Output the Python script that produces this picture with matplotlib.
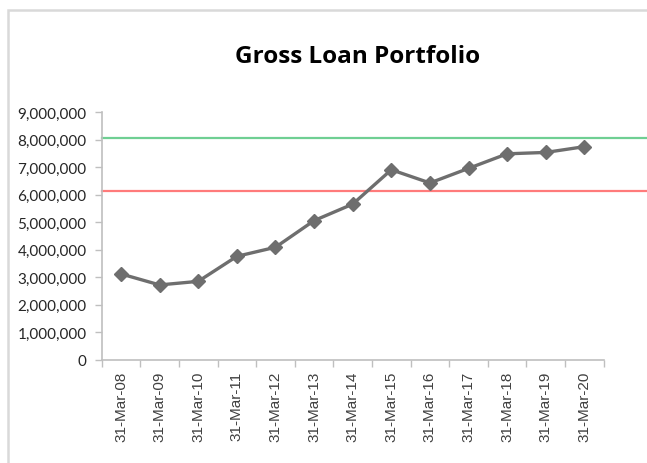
import matplotlib
matplotlib.use("Agg")
import matplotlib.pyplot as plt
from matplotlib.patches import Rectangle
from matplotlib.ticker import FuncFormatter, FixedLocator

dates = ["31-Mar-08", "31-Mar-09", "31-Mar-10", "31-Mar-11", "31-Mar-12", "31-Mar-13",
         "31-Mar-14", "31-Mar-15", "31-Mar-16", "31-Mar-17", "31-Mar-18", "31-Mar-19", "31-Mar-20"]
portfolio = [3120000, 2720000, 2850000, 3760000, 4090000, 5060000, 5660000,
             6910000, 6430000, 6960000, 7490000, 7540000, 7750000]
upper_level = 8060000
lower_level = 6150000
y_ticks = [0, 1000000, 2000000, 3000000, 4000000, 5000000, 6000000, 7000000, 8000000, 9000000]

W, H = 647, 464
fig = plt.figure(figsize=(W / 100, H / 100), dpi=100)
fig.patch.set_facecolor("white")

# chart frame
fig.patches.append(Rectangle((8 / W, -0.05), 1.1, 1.05 - 11 / H, transform=fig.transFigure,
                             fill=False, edgecolor="#d9d9d9", linewidth=1.8))

ax = fig.add_axes([101.7 / W, 1 - 360.7 / H, 502 / W, (360.7 - 113.3) / H])
x = list(range(len(dates)))

ax.axhline(upper_level, xmin=0, xmax=1.087, color="#6fcf93", linewidth=1.6, clip_on=False, zorder=2)
ax.axhline(lower_level, xmin=0, xmax=1.087, color="#ff7b7b", linewidth=1.6, clip_on=False, zorder=2)

ax.plot(x, portfolio, color="#6e6e6e", linewidth=2.4, marker="D", markersize=7,
        markerfacecolor="#6e6e6e", markeredgecolor="#6e6e6e", zorder=3)

ax.set_xlim(-0.5, len(dates) - 0.5)
ax.set_ylim(0, 9000000)
ax.set_yticks(y_ticks)
ax.yaxis.set_major_formatter(FuncFormatter(lambda v, p: f"{int(v):,}"))
ax.set_xticks(x)
ax.set_xticklabels(dates, rotation=90, fontsize=11, family="Liberation Sans", color="#404040")
ax.xaxis.set_minor_locator(FixedLocator([i - 0.5 for i in range(len(dates) + 1)]))
ax.tick_params(axis="x", which="major", length=0, pad=8)
ax.tick_params(axis="x", which="minor", length=5, color="#bfbfbf", width=1)
ax.tick_params(axis="y", length=5, color="#bfbfbf", width=1, pad=6)
for lab in ax.get_yticklabels():
    lab.set_family("Lato")
    lab.set_fontsize(11)
    lab.set_color("#262626")

for s in ["top", "right"]:
    ax.spines[s].set_visible(False)
for s in ["left", "bottom"]:
    ax.spines[s].set_color("#bfbfbf")
    ax.spines[s].set_linewidth(1.2)

fig.text(358 / W, 1 - 57 / H, "Gross Loan Portfolio", ha="center", va="center",
         fontsize=17.5, fontweight="bold", family="Open Sans", color="black")

fig.savefig("out.png", dpi=100)
